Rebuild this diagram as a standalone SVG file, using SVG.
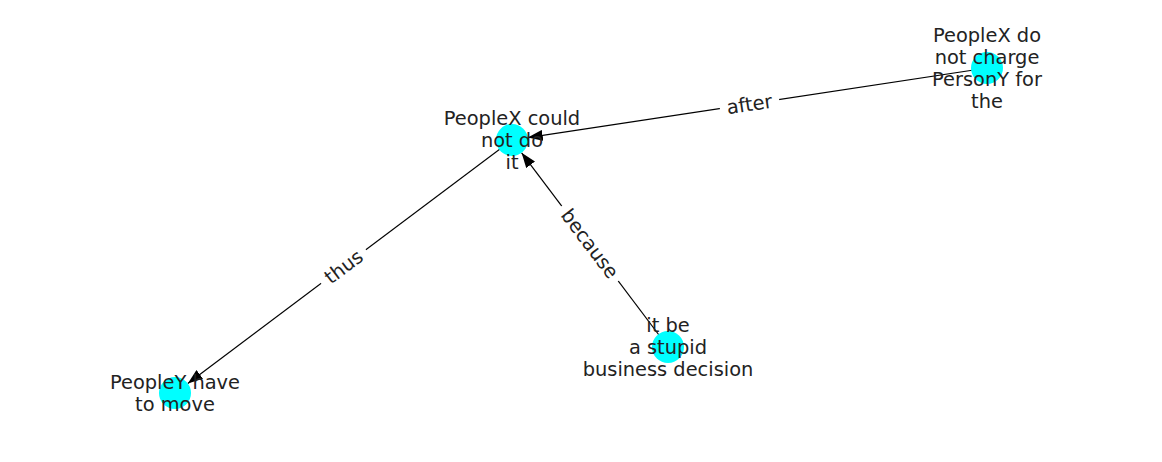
<svg xmlns="http://www.w3.org/2000/svg" width="1162" height="462" viewBox="0 0 1162 462">
<defs>
<marker id="arr" viewBox="0 0 15 11" refX="15" refY="5.5" markerWidth="15" markerHeight="11" markerUnits="userSpaceOnUse" orient="auto">
<path d="M0,0 L15,5.5 L0,11 Z" fill="#000"/>
</marker>
</defs>
<style>
.edge{stroke:#000;stroke-width:1.2;fill:none}
.node{fill:#00ffff}
.lbl{font-family:"DejaVu Sans",sans-serif;font-size:19.4px;fill:#222;text-anchor:middle}
.bg{fill:#fff}
</style>
<rect width="1162" height="462" fill="#fff"/>
<g id="edges">
<line class="edge" x1="987" y1="68" x2="527.8" y2="137.6" marker-end="url(#arr)"/>
<line class="edge" x1="668" y1="347" x2="521.6" y2="152.8" marker-end="url(#arr)"/>
<line class="edge" x1="512" y1="140" x2="187.8" y2="383.4" marker-end="url(#arr)"/>
<g transform="translate(749.5,104) rotate(-8.6)">
<rect class="bg" x="-30" y="-12" width="60" height="24"/>
<text class="lbl" x="0" y="7">after</text>
</g>
<g transform="translate(590,243.5) rotate(53)">
<rect class="bg" x="-47" y="-12" width="94" height="24"/>
<text class="lbl" x="0" y="7">because</text>
</g>
<g transform="translate(343.5,266.5) rotate(-36.9)">
<rect class="bg" x="-28" y="-12" width="56" height="24"/>
<text class="lbl" x="0" y="7">thus</text>
</g>
</g>
<g id="nA">
<circle class="node" cx="512" cy="140" r="16"/>
<text class="lbl" x="512" y="125">PeopleX could</text>
<text class="lbl" x="512" y="147">not do</text>
<text class="lbl" x="512" y="169">it</text>
</g>
<g id="nB">
<circle class="node" cx="987" cy="68" r="16"/>
<text class="lbl" x="987" y="42">PeopleX do</text>
<text class="lbl" x="987" y="64">not charge</text>
<text class="lbl" x="987" y="86">PersonY for</text>
<text class="lbl" x="987" y="108">the</text>
</g>
<g id="nC">
<circle class="node" cx="668" cy="347" r="16"/>
<text class="lbl" x="668" y="332">it be</text>
<text class="lbl" x="668" y="354">a stupid</text>
<text class="lbl" x="668" y="376">business decision</text>
</g>
<g id="nD">
<circle class="node" cx="175" cy="393" r="16"/>
<text class="lbl" x="175" y="389">PeopleY have</text>
<text class="lbl" x="175" y="411">to move</text>
</g>
</svg>
